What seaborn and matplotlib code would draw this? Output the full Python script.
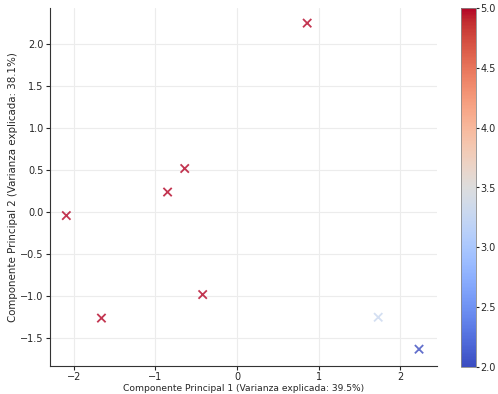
import matplotlib
matplotlib.use("Agg")
from matplotlib import pyplot as plt
import matplotlib.colors as mcolors
import pandas as pd
import seaborn as sns

# PCA scores
pc1 = [0.86, -0.64, -0.85, -2.09, -0.42, -1.66, 1.73, 2.23]
pc2 = [2.25, 0.52, 0.24, -0.04, -0.98, -1.26, -1.25, -1.63]
score = [5.0, 5.0, 5.0, 5.0, 5.0, 5.0, 3.3, 2.0]

data = pd.DataFrame({'PC1': pc1, 'PC2': pc2, 'score': score})

sns.set_style('whitegrid', {'axes.edgecolor': '#333333', 'grid.color': '#ececec',
                            'xtick.bottom': True, 'ytick.left': True})
plt.rcParams['font.family'] = ['DejaVu Sans']

fig = plt.figure(figsize=(4.98, 3.94), dpi=100)
ax = fig.add_axes([50 / 498, 28 / 394, 387 / 498, 358 / 394])
cax = fig.add_axes([461 / 498, 27 / 394, 15 / 498, 359 / 394])

norm = mcolors.Normalize(vmin=2.0, vmax=5.0)
sns.scatterplot(x='PC1', y='PC2', hue='score', data=data, ax=ax, palette='coolwarm',
                hue_norm=norm, marker='x', s=36, linewidth=1.3, alpha=0.8, legend=False)

ax.set_xlim(-2.29, 2.45)
ax.set_ylim(-1.83, 2.43)
ax.set_xticks([-2, -1, 0, 1, 2])
ax.set_yticks([-1.5, -1.0, -0.5, 0.0, 0.5, 1.0, 1.5, 2.0])
ax.set_xlabel('Componente Principal 1 (Varianza explicada: 39.5%)', fontsize=6.6, labelpad=1)
ax.set_ylabel('Componente Principal 2 (Varianza explicada: 38.1%)', fontsize=7.4, labelpad=1.5)
ax.tick_params(labelsize=7, length=3, width=0.8, pad=1.5)
sns.despine(ax=ax)

sm = plt.cm.ScalarMappable(cmap='coolwarm', norm=norm)
cb = fig.colorbar(sm, cax=cax)
cb.set_ticks([2.0, 2.5, 3.0, 3.5, 4.0, 4.5, 5.0])
cb.ax.tick_params(labelsize=7, length=2, pad=1)
cb.outline.set_edgecolor('#888888')
cb.outline.set_linewidth(0.6)

plt.savefig('out.png', dpi=100)
